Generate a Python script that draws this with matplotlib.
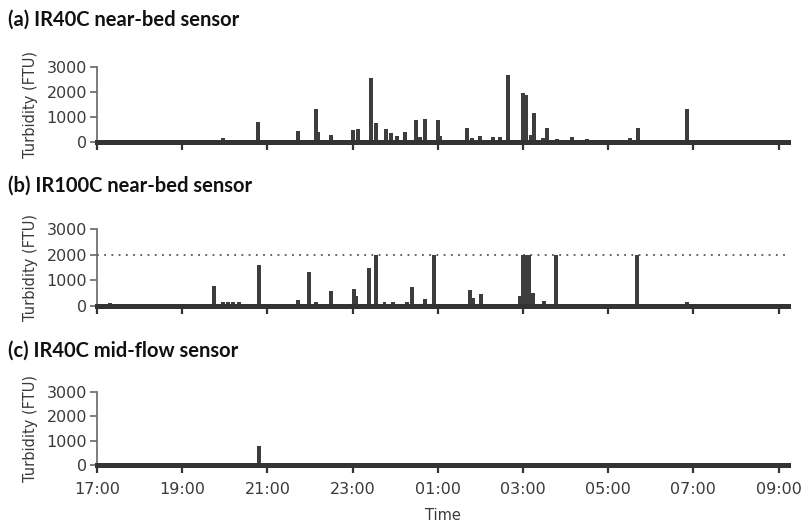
import matplotlib
matplotlib.use("Agg")
import matplotlib.pyplot as plt

# ---------------- data (time HH:MM, turbidity FTU) ----------------
a_times = ["19:58", "20:47", "21:43", "22:08", "22:11", "22:29", "23:01", "23:08",
           "23:26", "23:33", "23:47", "23:54", "00:02", "00:14", "00:29", "00:35",
           "00:42", "01:00", "01:03", "01:41", "01:48", "01:59", "02:18", "02:28",
           "02:39", "03:00", "03:05", "03:11", "03:15", "03:28", "03:34", "03:48",
           "04:09", "04:30", "04:54", "05:31", "05:42", "06:51"]
a_values = [150, 820, 450, 1330, 400, 270, 470, 520,
            2570, 750, 530, 380, 250, 400, 890, 200,
            930, 890, 250, 570, 150, 240, 200, 200,
            2680, 1950, 1870, 300, 1180, 180, 570, 120,
            200, 120, 100, 150, 570, 1340]

b_times = ["17:18", "19:45", "19:58", "20:05", "20:12", "20:20", "20:48", "21:43",
           "21:59", "22:08", "22:29", "23:02", "23:05", "23:23", "23:33", "23:45",
           "23:57", "00:17", "00:24", "00:42", "00:55", "01:45", "01:50", "02:01",
           "02:56", "03:00", "03:04", "03:08", "03:14", "03:30", "03:46", "05:41",
           "05:52", "06:06", "06:51"]
b_values = [120, 780, 150, 150, 150, 150, 1600, 230,
            1340, 150, 600, 660, 400, 1500, 2000, 150,
            150, 150, 740, 270, 2000, 640, 310, 450,
            380, 2000, 2000, 2000, 510, 200, 2000, 2000,
            80, 80, 160]
b_limit = 2000

c_times = ["20:48"]
c_values = [780]

tick_labels = ["17:00", "19:00", "21:00", "23:00", "01:00", "03:00", "05:00", "07:00", "09:00"]
titles = ["(a) IR40C near-bed sensor", "(b) IR100C near-bed sensor", "(c) IR40C mid-flow sensor"]


def to_hours(s):
    h, m = map(int, s.split(":"))
    t = h + m / 60.0 - 17.0
    if t < 0:
        t += 24.0
    return t


fig = plt.figure(figsize=(8.03, 5.24), dpi=100)

W, H = 803.0, 524.0
left_px, right_px = 97, 788
# (zero pixel row, 3000 pixel row, title pixel row)
panels = [(142, 67, 20), (306, 229, 186), (465, 392, 351)]
datasets = [(a_times, a_values), (b_times, b_values), (c_times, c_values)]

bar_color = "#3d3d3d"
text_gray = "#3a3a3a"
tick_pos = [to_hours(s) for s in tick_labels]
xmax = (right_px - left_px) / 42.6

for i, ((zero_px, top_px, title_px), (ts, vs)) in enumerate(zip(panels, datasets)):
    ax = fig.add_axes([left_px / W, 1 - zero_px / H,
                       (right_px - left_px) / W, (zero_px - top_px) / H])
    x = [to_hours(s) for s in ts]
    ax.bar(x, vs, width=0.09, color=bar_color, align="center", zorder=2)
    ax.set_xlim(0, xmax)
    ax.set_ylim(0, 3000)
    ax.set_yticks([0, 1000, 2000, 3000])
    ax.set_xticks(tick_pos)
    if i == 2:
        ax.set_xticklabels(tick_labels)
        ax.set_xlabel("Time", fontsize=10.5, color=text_gray, labelpad=8)
    else:
        ax.set_xticklabels([])
    if i == 1:
        ax.axhline(b_limit, color="#555555", linestyle=(0, (1, 3)), linewidth=1.3, zorder=1)
    for side in ("top", "right"):
        ax.spines[side].set_visible(False)
    ax.spines["left"].set_color("#666666")
    ax.spines["left"].set_linewidth(1.2)
    ax.spines["bottom"].set_color("#333333")
    ax.spines["bottom"].set_linewidth(3.6)
    ax.spines["bottom"].set_zorder(3)
    ax.tick_params(axis="y", direction="out", length=5, width=1.2, color="#666666",
                   labelsize=11.5, labelcolor=text_gray, pad=2)
    ax.tick_params(axis="x", direction="out", length=6, width=1.6, color="#333333",
                   labelsize=11.5, labelcolor=text_gray, pad=6)
    ax.set_ylabel("Turbidity (FTU)", fontsize=10.5, color=text_gray, labelpad=6)
    fig.text(8 / W, 1 - title_px / H, titles[i], fontsize=14.5, fontweight="bold",
             family="Lato", ha="left", va="center", color="#111111")

fig.savefig("out.png", dpi=100)
